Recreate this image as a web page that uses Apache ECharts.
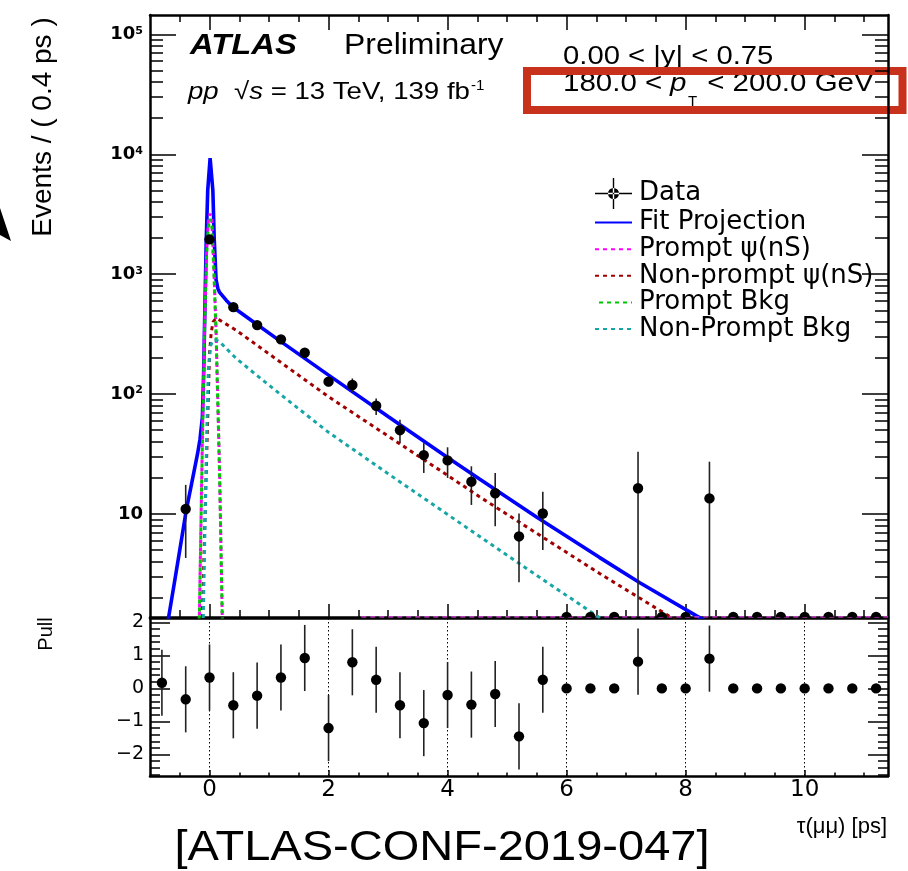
<!DOCTYPE html>
<html>
<head>
<meta charset="utf-8">
<title>ATLAS lifetime fit projection</title>
<script src="https://cdn.jsdelivr.net/npm/echarts@6.0.0/dist/echarts.min.js"></script>
<style>
html,body{margin:0;padding:0;background:#ffffff;}
#chart{width:908px;height:871px;}
</style>
</head>
<body>
<div id="chart"></div>
<script>
// ---------------- data ----------------
const binCentres  = [-0.8,-0.4,0.0,0.4,0.8,1.2,1.6,2.0,2.4,2.8,3.2,3.6,4.0,4.4,4.8,5.2,5.6,6.0,6.4,6.8,7.2,7.6,8.0,8.4,8.8,9.2,9.6,10.0,10.4,10.8,11.2];
const dataValues  = [0.8,11,1950,531,376,286,221,127,119,80,50,31,28,18.6,14.9,6.5,10.1,0,0,0,16.4,0,0,13.5,0,0,0,0,0,0,0];
const dataErrLow  = [0.3,4.3,1880,505,355,268,205,116,104,67,39,22,20,11.9,7.9,2.7,5.0,0,0,0,0,0,0,0,0,0,0,0,0,0,0];
const dataErrHigh = [1.3,17.5,2020,558,397,304,237,138,135,92,61,39,36,25,22,10.1,15.3,0,0,0,33,0,0,27.3,0,0,0,0,0,0,0];
const pullValues  = [0.17,-0.33,0.33,-0.51,-0.22,0.33,0.92,-1.2,0.79,0.26,-0.51,-1.05,-0.2,-0.49,-0.17,-1.45,0.26,0,0,0,0.81,0,0,0.9,0,0,0,0,0,0,0];
const pullErrors  = [1,1,1,1,1,1,1,1,1,1,1,1,1,1,1,1,1,0,0,0,1,0,0,1,0,0,0,0,0,0,0];

const fitTau   = [-0.72,-0.6,-0.5,-0.39,-0.3,-0.2,-0.16,-0.12,-0.1,-0.085,-0.055,-0.03,0.01,0.056,0.08,0.11,0.14,0.17,0.28,0.39,0.81,1.2,2.0,3.0,4.0,4.53,5.5,6.55,7.23,8.24,8.4];
const fitCurve = [1.1,2.5,5.0,10.8,18,32,42,64,140,340,1920,5000,9300,5000,1920,900,760,705,607,533,377,274,144,65,29.6,19.7,9.4,4.35,2.67,1.36,1.22];

const promptTau      = [-0.2,-0.17,-0.13,-0.085,-0.05,-0.02,0.01,0.04,0.075,0.11,0.17,0.213,0.24];
const promptCurve    = [0.9,1.45,22,340,1500,2800,3200,2800,1100,340,22,1.45,0.9];
const promptTailTau  = [2.55,11.4];
const promptTailCurve= [1.384,1.384];

const promptBkgTau   = [-0.2,-0.17,-0.13,-0.085,-0.05,-0.02,0.01,0.04,0.075,0.11,0.17,0.213,0.24];
const promptBkgCurve = [0.9,1.45,20,320,1400,2500,2900,2500,1000,320,20,1.45,0.9];

const nonPromptTau   = [-0.14,-0.12,-0.08,-0.04,0.0,0.03,0.06,0.11,0.17,0.45,2.0,4.0,4.53,6.55,7.68,7.9];
const nonPromptCurve = [1.0,1.45,7.8,42,219,330,400,430,414,340,95,21,14,3.2,1.45,1.24];

const nonPromptBkgTau   = [-0.11,-0.08,-0.05,-0.02,0.02,0.06,0.11,0.17,0.45,0.9,1.32,2.0,3.0,4.0,4.54,5.23,6.53,6.7];
const nonPromptBkgCurve = [1.0,6,40,160,255,282,282,273,198,130,88.5,48,21.7,9.9,6.5,3.78,1.39,1.2];

// ---------------- ticks ----------------
const xMajorTicks   = [0,2,4,6,8,10];
const xMinorTicks   = [-0.5,0.5,1,1.5,2.5,3,3.5,4.5,5,5.5,6.5,7,7.5,8.5,9,9.5,10.5,11];
const yMajorTicks   = [10,100,1000,10000,100000];
const yMinorTicks   = [2,3,4,5,6,7,8,9,20,30,40,50,60,70,80,90,200,300,400,500,600,700,800,900,
                       2000,3000,4000,5000,6000,7000,8000,9000,20000,30000,40000,50000,60000,70000,80000,90000];
const pullMajorTicks= [-2,-1,0,1,2];
const pullMinorTicks= [-2.6,-2.4,-2.2,-1.8,-1.6,-1.4,-1.2,-0.8,-0.6,-0.4,-0.2,0.2,0.4,0.6,0.8,1.2,1.4,1.6,1.8];

const legendNames = ['Data','Fit Projection','Prompt \u03c8(nS)','Non-prompt \u03c8(nS)','Prompt Bkg','Non-Prompt Bkg'];

// ---------------- axis ranges ----------------
const TAU_RANGE  = [-1, 11.4];
const Y_MIN = 1.384, Y_MAX = 145000;
const PULL_RANGE = [-2.65, 2.13];

const K = '#000000';
function pairs(xs, ys) { return xs.map((x, i) => [x, ys[i]]); }

function tickAxis(grid, pos, range, type, ticks, len, lineShow, label) {
  const ax = {
    type: type, gridIndex: grid, position: pos, min: range[0], max: range[1],
    axisLine: {show: lineShow, onZero: false, lineStyle: {color: K, width: 2.5}},
    axisTick: {show: ticks.length > 0, inside: true, length: len, customValues: ticks,
               lineStyle: {color: K, width: 1.5}},
    axisLabel: label || {show: false},
    splitLine: {show: false}, splitArea: {show: false},
    minorTick: {show: false}, minorSplitLine: {show: false},
    axisPointer: {show: false}, silent: true
  };
  if (type === 'log') ax.logBase = 10;
  return ax;
}

const logLabel = {
  show: true, customValues: yMajorTicks, margin: 7,
  formatter: function (v) {
    const e = Math.round(Math.log10(v));
    return e === 1 ? '{b|10}' : '{b|10}{s|' + e + '}';
  },
  rich: {
    b: {fontFamily: 'DejaVu Sans', fontWeight: 'bold', fontSize: 18, color: K},
    s: {fontFamily: 'DejaVu Sans', fontWeight: 'bold', fontSize: 11, color: K, verticalAlign: 'top', padding: [0, 0, 6, 0]}
  }
};
const pullLabel = {
  show: true, customValues: pullMajorTicks, margin: 6,
  fontFamily: 'DejaVu Sans', fontSize: 19, color: K,
  formatter: function (v) { return v < 0 ? '\u2212' + (-v) : String(v); }
};
const tauLabel = {
  show: true, customValues: xMajorTicks, margin: 3,
  fontFamily: 'DejaVu Sans', fontSize: 23, color: K,
  formatter: function (v) { return String(v); }
};

const pullX = tickAxis(1, 'bottom', TAU_RANGE, 'value', xMajorTicks, 6, true, tauLabel);
pullX.splitLine = {show: true, lineStyle: {color: K, width: 1, type: [1.5, 2.5]}};

const xAxes = [
  tickAxis(0, 'bottom', TAU_RANGE, 'value', xMajorTicks, 13, true),
  tickAxis(0, 'bottom', TAU_RANGE, 'value', xMinorTicks, 7, false),
  tickAxis(0, 'top',    TAU_RANGE, 'value', xMajorTicks, 15, true),
  tickAxis(0, 'top',    TAU_RANGE, 'value', xMinorTicks, 7, false),
  pullX,
  tickAxis(1, 'bottom', TAU_RANGE, 'value', xMinorTicks, 3.5, false),
  tickAxis(1, 'top',    TAU_RANGE, 'value', [], 0, true)
];
const yAxes = [
  tickAxis(0, 'left',  [Y_MIN, Y_MAX], 'log', yMajorTicks, 26, true, logLabel),
  tickAxis(0, 'left',  [Y_MIN, Y_MAX], 'log', yMinorTicks, 13, false),
  tickAxis(0, 'right', [Y_MIN, Y_MAX], 'log', yMajorTicks, 26, true),
  tickAxis(0, 'right', [Y_MIN, Y_MAX], 'log', yMinorTicks, 13, false),
  tickAxis(1, 'left',  PULL_RANGE, 'value', pullMajorTicks, 20, true, pullLabel),
  tickAxis(1, 'left',  PULL_RANGE, 'value', pullMinorTicks, 10, false),
  tickAxis(1, 'right', PULL_RANGE, 'value', pullMajorTicks, 20, true),
  tickAxis(1, 'right', PULL_RANGE, 'value', pullMinorTicks, 10, false)
];

function renderData(params, api) {
  const x = api.value(0), v = api.value(1), lo = api.value(2), hi = api.value(3);
  const kids = [];
  if (hi > 0) {
    const a = api.coord([x, hi]);
    const b = api.coord([x, lo > 0 ? lo : Y_MIN]);
    kids.push({type: 'line', shape: {x1: a[0], y1: a[1], x2: b[0], y2: b[1]},
               style: {stroke: '#222', lineWidth: 1.6}});
  }
  const c = api.coord([x, v > 0 ? v : Y_MIN]);
  kids.push({type: 'circle', shape: {cx: c[0], cy: c[1], r: 5.2}, style: {fill: '#000'}});
  return {type: 'group', children: kids};
}
function renderPull(params, api) {
  const x = api.value(0), p = api.value(1), e = api.value(2);
  const kids = [];
  if (e > 0) {
    const a = api.coord([x, p + e]), b = api.coord([x, p - e]);
    kids.push({type: 'line', shape: {x1: a[0], y1: a[1], x2: b[0], y2: b[1]},
               style: {stroke: '#222', lineWidth: 1.6}});
  }
  const c = api.coord([x, p]);
  kids.push({type: 'circle', shape: {cx: c[0], cy: c[1], r: 5.2}, style: {fill: '#000'}});
  return {type: 'group', children: kids};
}

function curve(name, xs, ys, color, width, dash, z, offset) {
  return {
    name: name, type: 'line', xAxisIndex: 0, yAxisIndex: 0, data: pairs(xs, ys),
    symbol: 'none', showSymbol: false, smooth: false, clip: true, z: z, silent: true,
    lineStyle: {color: color, width: width, type: dash || 'solid', dashOffset: offset || 0},
    itemStyle: {color: color}, emphasis: {disabled: true}
  };
}

const dataIcon = 'path://M0,14.8H37V16.2H0Z M17.8,0H19.2V31H17.8Z M13,15.5A5.5,5.5,0,1,0,24,15.5A5.5,5.5,0,1,0,13,15.5Z';
const hiddenSymbol = {opacity: 0};

const option = {
  animation: false,
  backgroundColor: '#ffffff',
  textStyle: {fontFamily: 'Liberation Sans'},
  grid: [
    {left: 150, top: 15, width: 738, height: 602, outerBoundsMode: 'none', containLabel: false},
    {left: 150, top: 618, width: 738, height: 158, outerBoundsMode: 'none', containLabel: false}
  ],
  xAxis: xAxes,
  yAxis: yAxes,
  legend: {
    orient: 'vertical', left: 594, top: 178, itemWidth: 37, itemHeight: 31, itemGap: 0.6,
    selectedMode: false, padding: 0,
    textStyle: {fontFamily: 'DejaVu Sans', fontSize: 26, color: '#000', padding: [0, 0, 0, 2]},
    lineStyle: {width: 2},
    data: [
      {name: legendNames[0], icon: dataIcon, itemStyle: {color: '#000'}},
      {name: legendNames[1], itemStyle: hiddenSymbol},
      {name: legendNames[2], itemStyle: hiddenSymbol},
      {name: legendNames[3], itemStyle: hiddenSymbol},
      {name: legendNames[4], itemStyle: hiddenSymbol},
      {name: legendNames[5], itemStyle: hiddenSymbol}
    ]
  },
  series: [
    curve(legendNames[1], fitTau, fitCurve, '#0000ff', 3.6, 'solid', 3),
    curve(legendNames[2], promptTau, promptCurve, '#ff00ff', 3, [4, 4], 4, 0),
    curve(legendNames[2], promptTailTau, promptTailCurve, '#e040e0', 1.5, [5, 4], 4, 0),
    curve(legendNames[3], nonPromptTau, nonPromptCurve, '#a00000', 3, [4, 4], 4, 0),
    curve(legendNames[4], promptBkgTau, promptBkgCurve, '#00c800', 3, [4, 4], 4, 4),
    curve(legendNames[5], nonPromptBkgTau, nonPromptBkgCurve, '#17a6a6', 3, [4, 4], 4, 0),
    {
      name: legendNames[0], type: 'custom', xAxisIndex: 0, yAxisIndex: 0, clip: true, z: 6,
      itemStyle: {color: '#000'}, silent: true,
      dimensions: ['tau', 'value', 'low', 'high'], encode: {x: 0, y: 1},
      data: binCentres.map((x, i) => [x, dataValues[i], dataErrLow[i], dataErrHigh[i]]),
      renderItem: renderData
    },
    {
      name: 'Pull', type: 'custom', xAxisIndex: 4, yAxisIndex: 4, clip: true, z: 6,
      itemStyle: {color: '#000'}, silent: true,
      dimensions: ['tau', 'pull', 'err'], encode: {x: 0, y: 1},
      data: binCentres.map((x, i) => [x, pullValues[i], pullErrors[i]]),
      renderItem: renderPull
    }
  ],
  graphic: [
    {type: 'polygon', shape: {points: [[0, 208], [11, 241], [0, 235]]}, style: {fill: '#000'}},
    {type: 'text', x: 43, y: 127, rotation: Math.PI / 2,
     style: {text: 'Events / ( 0.4 ps )', fontFamily: 'Liberation Sans', fontSize: 28, fill: '#000',
             textAlign: 'center', textVerticalAlign: 'middle'}},
    {type: 'text', x: 46, y: 634, rotation: Math.PI / 2,
     style: {text: 'Pull', fontFamily: 'Liberation Sans', fontSize: 20, fill: '#000',
             textAlign: 'center', textVerticalAlign: 'middle'}},
    {type: 'text', x: 887, y: 827,
     style: {text: '\u03c4(\u03bc\u03bc) [ps]', fontFamily: 'Liberation Sans', fontSize: 22, fill: '#000',
             textAlign: 'right', textVerticalAlign: 'middle'}},
    {type: 'text', x: 190, y: 46, scaleX: 1.13,
     style: {text: 'ATLAS', fontFamily: 'Liberation Sans', fontSize: 29, fontWeight: 'bold', fontStyle: 'italic',
             fill: '#000', textAlign: 'left', textVerticalAlign: 'middle'}},
    {type: 'text', x: 344, y: 46, scaleX: 1.1,
     style: {text: 'Preliminary', fontFamily: 'Liberation Sans', fontSize: 29, fill: '#000',
             textAlign: 'left', textVerticalAlign: 'middle'}},
    {type: 'text', x: 188, y: 92, scaleX: 1.15,
     style: {text: '{i|pp}{n|  \u221a}{i|s}{n| = 13 TeV, 139 fb}', fill: '#000',
             textAlign: 'left', textVerticalAlign: 'middle',
             rich: {i: {fontFamily: 'Liberation Sans', fontSize: 24, fontStyle: 'italic', fill: '#000'},
                    n: {fontFamily: 'Liberation Sans', fontSize: 24, fill: '#000'}}}},
    {type: 'text', x: 471, y: 86,
     style: {text: '-1', fontFamily: 'Liberation Sans', fontSize: 15, fill: '#000',
             textAlign: 'left', textVerticalAlign: 'middle'}},
    {type: 'text', x: 563, y: 57, scaleX: 1.17,
     style: {text: '0.00 < |y| < 0.75', fontFamily: 'Liberation Sans', fontSize: 25, fill: '#000',
             textAlign: 'left', textVerticalAlign: 'middle'}},
    {type: 'text', x: 563, y: 84, scaleX: 1.18,
     style: {text: '180.0 < ', fontFamily: 'Liberation Sans', fontSize: 25, fill: '#000',
             textAlign: 'left', textVerticalAlign: 'middle'}},
    {type: 'text', x: 670, y: 84, scaleX: 1.18,
     style: {text: 'p', fontFamily: 'Liberation Sans', fontSize: 25, fontStyle: 'italic', fill: '#000',
             textAlign: 'left', textVerticalAlign: 'middle'}},
    {type: 'text', x: 688, y: 102,
     style: {text: 'T', fontFamily: 'Liberation Sans', fontSize: 15, fill: '#000',
             textAlign: 'left', textVerticalAlign: 'middle'}},
    {type: 'text', x: 699, y: 84, scaleX: 1.18,
     style: {text: ' < 200.0 GeV', fontFamily: 'Liberation Sans', fontSize: 25, fill: '#000',
             textAlign: 'left', textVerticalAlign: 'middle'}},
    {type: 'rect', shape: {x: 527, y: 71, width: 375.5, height: 39},
     style: {fill: 'none', stroke: '#c8311c', lineWidth: 8}},
    {type: 'text', x: 442, y: 848, scaleX: 1.12,
     style: {text: '[ATLAS-CONF-2019-047]', fontFamily: 'Liberation Sans', fontSize: 42, fill: '#000',
             textAlign: 'center', textVerticalAlign: 'middle'}}
  ]
};

const chart = echarts.init(document.getElementById('chart'), null, {renderer: 'canvas'});
chart.setOption(option);
</script>
</body>
</html>
